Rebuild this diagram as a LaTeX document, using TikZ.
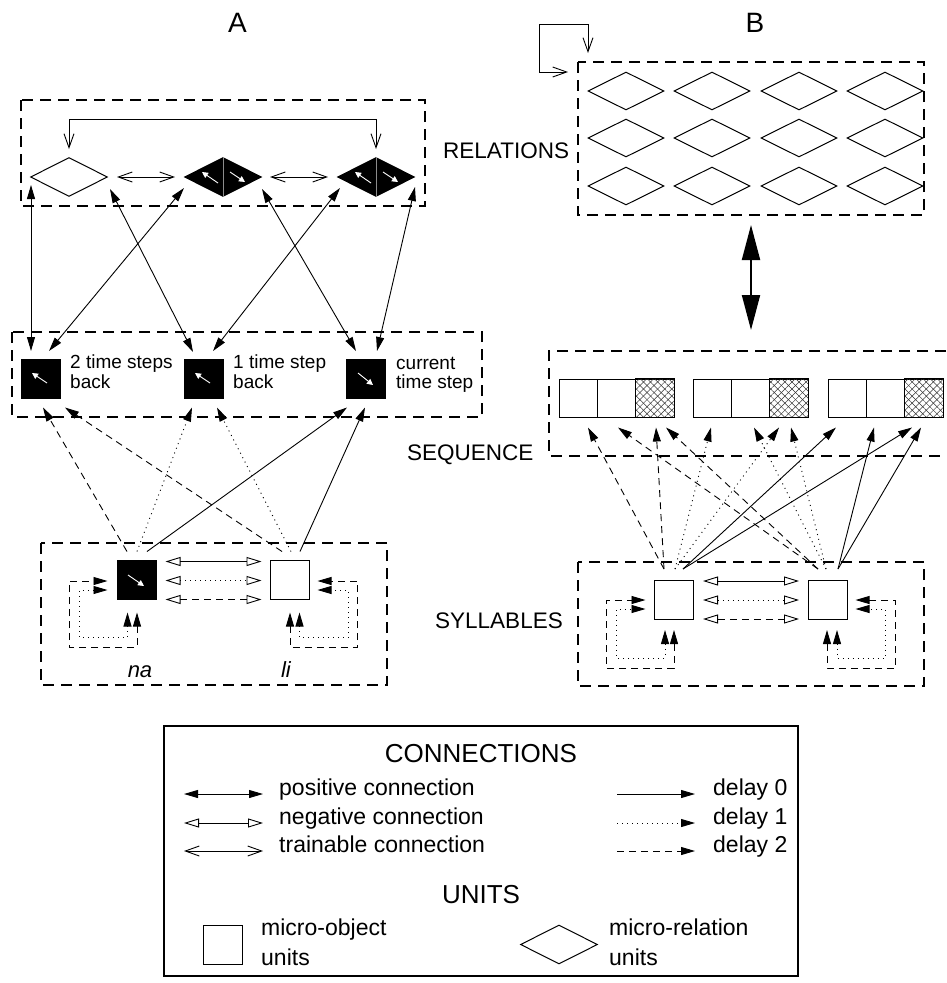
\documentclass[tikz,border=0pt]{standalone}
\usepackage{fontspec}
\setmainfont{Liberation Sans}
\usetikzlibrary{arrows.meta,shapes.geometric,patterns.meta,calc}
\newcommand{\myfs}[1]{\fontsize{#1}{#1}\selectfont}
\begin{document}
\begin{tikzpicture}[x=1pt,y=-1pt,
  grp/.style={draw, line width=1.7pt, dash pattern=on 11pt off 7pt},
  rel/.style={diamond, draw, line width=1pt, minimum width=77pt, minimum height=39pt, inner sep=0pt, aspect=2},
  relb/.style={rel, fill=black},
  unit/.style={rectangle, draw, line width=1pt, minimum size=39pt, inner sep=0pt},
  unitb/.style={unit, fill=black},
  cell/.style={rectangle, draw, line width=1pt, minimum width=38.33pt, minimum height=38pt, inner sep=0pt},
  conn/.style={line width=0.9pt},
  dotl/.style={dash pattern=on 1pt off 4pt},
  dashl/.style={dash pattern=on 7pt off 5pt},
  posc/.style={conn, {Triangle[length=14pt,width=8pt]}-{Triangle[length=14pt,width=8pt]}},
  negc/.style={conn, {Triangle[open,length=15pt,width=9pt]}-{Triangle[open,length=15pt,width=9pt]}},
  trnc/.style={conn, {Straight Barb[length=14pt,width=10pt]}-{Straight Barb[length=14pt,width=10pt]}},
  dlyc/.style={conn, -{Triangle[length=14pt,width=8pt]}},
  wa/.style={white, line width=0.9pt, -{Triangle[length=6pt,width=6pt]}},
  lbl/.style={font=\myfs{19}, inner sep=0pt},
  sect/.style={font=\myfs{22.5}, inner sep=0pt},
  hdr/.style={font=\myfs{28}, inner sep=0pt},
  leg/.style={font=\myfs{23}, inner sep=0pt},
  legh/.style={font=\myfs{26}, inner sep=0pt},
  ital/.style={font=\myfs{22}\itshape, inner sep=0pt},
]
\useasboundingbox (0,0) rectangle (946,983);

% ---------------- titles ----------------
\node[hdr, anchor=base] (ta) at (237.5,32) {A};
\node[hdr, anchor=base] (tb) at (755,32) {B};

% ================= A =================
% relations
\draw[grp] (21,100) rectangle (425,206);
\node[rel] (ra1) at (69,177) {};
\node[relb] (ra2) at (223,177) {};
\node[relb] (ra3) at (376,177) {};
\foreach \rr in {ra2,ra3}{
  \draw[black!45, line width=0.6pt] (\rr.north) -- (\rr.south);
  \draw[wa] ($(\rr)+(-5,6)$) -- ($(\rr)+(-21,-5)$);
  \draw[wa] ($(\rr)+(7,-5)$) -- ($(\rr)+(22,5)$);
}
\draw[trnc] ($(ra1.east)+(9,0)$) -- ($(ra2.west)+(-9,0)$);
\draw[trnc] ($(ra2.east)+(8,0)$) -- ($(ra3.west)+(-9,0)$);
\draw[trnc] ($(ra1.north)+(0,-8)$) -- ($(ra1.north)+(0,-38)$) -| ($(ra3.north)+(0,-8)$);
\node[sect, anchor=base west] (trel) at (443,158) {RELATIONS};

% sequence
\draw[grp] (12,332) rectangle (482,417);
\node[unitb] (sa1) at (40.5,378.5) {};
\node[unitb] (sa2) at (203.5,378.5) {};
\node[unitb] (sa3) at (366,378.5) {};
\draw[wa] ($(sa1)+(6.5,4.5)$) -- ($(sa1)+(-8.5,-5.5)$);
\draw[wa] ($(sa2)+(6.5,4.5)$) -- ($(sa2)+(-8.5,-5.5)$);
\draw[wa] ($(sa3)+(-8,-5.5)$) -- ($(sa3)+(7,6.5)$);
\node[lbl, anchor=base west] (l1a) at (70,368) {2 time steps};
\node[lbl, anchor=base west] (l1b) at (70,388) {back};
\node[lbl, anchor=base west] (l2a) at (233,368) {1 time step};
\node[lbl, anchor=base west] (l2b) at (233,388) {back};
\node[lbl, anchor=base west] (l3a) at (396,369) {current};
\node[lbl, anchor=base west] (l3b) at (396,388) {time step};
\node[sect, anchor=base west] (tseq) at (407,460) {SEQUENCE};

% relations <-> sequence
\draw[posc] ($(ra1)+(-38,8)$) -- ($(sa1)+(-9.5,-27.5)$);
\draw[posc] ($(ra1)+(41,12)$) -- ($(sa2)+(-10.5,-26.5)$);
\draw[posc] ($(ra2)+(-39,11)$) -- ($(sa1)+(8.5,-27.5)$);
\draw[posc] ($(ra2)+(39,12)$) -- ($(sa3)+(-10,-27.5)$);
\draw[posc] ($(ra3)+(-36,11)$) -- ($(sa2)+(9.5,-27.5)$);
\draw[posc] ($(ra3)+(39,10)$) -- ($(sa3)+(11,-27.5)$);

% syllables
\draw[grp] (41,543) rectangle (387,685);
\node[unitb] (na) at (136.5,579.5) {};
\node[unit] (li) at (289.5,579.5) {};
\draw[wa] ($(na)+(-8.5,-4.5)$) -- ($(na)+(7.5,6.5)$);
\draw[negc] ($(na.east)+(9,-18)$) -- ($(li.west)+(-8,-18)$);
\draw[negc, dotl] ($(na.east)+(9,1)$) -- ($(li.west)+(-8,1)$);
\draw[negc, dashl] ($(na.east)+(9,20)$) -- ($(li.west)+(-8,20)$);
% self loops
\draw[posc, dashl] ($(na.south)+(0.5,13)$) -- ($(na.south)+(0.5,48)$) -| ($(na.west)+(-47,1.5)$) -- ($(na.west)+(-9,1.5)$);
\draw[posc, dotl] ($(na.south)+(-9,13)$) -- ($(na.south)+(-9,38)$) -| ($(na.west)+(-37,10.5)$) -- ($(na.west)+(-9,10.5)$);
\draw[posc, dashl] ($(li.south)+(0.5,13)$) -- ($(li.south)+(0.5,48)$) -| ($(li.east)+(48,1.5)$) -- ($(li.east)+(8,1.5)$);
\draw[posc, dotl] ($(li.south)+(10,13)$) -- ($(li.south)+(10,38)$) -| ($(li.east)+(39,10.5)$) -- ($(li.east)+(8,10.5)$);
\node[ital, anchor=base] (tna) at (140,677) {na};
\node[ital, anchor=base] (tli) at (286,677) {li};
\node[sect, anchor=base west] (tsyl) at (435,628) {SYLLABLES};

% syllables -> sequence
\draw[dlyc, dashl] ($(na.north)+(-9.5,-8)$) -- ($(sa1.south)+(2.5,9)$);
\draw[dlyc, dotl] ($(na.north)+(0.5,-8)$) -- ($(sa2.south)+(-11.5,9)$);
\draw[dlyc] ($(na.north)+(10.5,-8)$) -- ($(sa3.south)+(-19,9)$);
\draw[dlyc, dashl] ($(li.north)+(-7.5,-8)$) -- ($(sa1.south)+(24.5,9)$);
\draw[dlyc, dotl] ($(li.north)+(1.5,-8)$) -- ($(sa2.south)+(13.5,9)$);
\draw[dlyc] ($(li.north)+(10.5,-8)$) -- ($(sa3.south)+(-1,9)$);

% ================= B =================
\draw[grp] (578,62) rectangle (924,215);
\foreach \jj/\yy in {1/91,2/138,3/186}{
  \foreach \ii/\xx in {1/626,2/712,3/799,4/885}{
    \node[rel, minimum width=76pt, minimum height=38pt] (rb\jj\ii) at (\xx,\yy) {};
  }
}
\coordinate (lpa) at (588,53);
\coordinate (lpb) at (568,72);
\draw[trnc] (lpa) -- (588,24) -| (539,72) -- (lpb);

\coordinate (bga) at (751,225);
\coordinate (bgb) at (751,330);
\draw[line width=2pt, {Triangle[length=35pt,width=18pt]}-{Triangle[length=35pt,width=18pt]}] (bga) -- (bgb);

% sequence B
\draw[grp] (946,351) -- (549,351) -- (549,456) -- (946,456);
\foreach \gg/\ss in {1/559,2/693,3/828}{
  \foreach \kk in {0,1,2}{
    \node[cell] (c\gg\kk) at ({\ss+19.17+38.33*\kk},398) {};
  }
  \fill[pattern={Lines[angle=45,distance=5pt,line width=0.5pt]}, pattern color=black!80] (c\gg2.north west) rectangle (c\gg2.south east);
  \fill[pattern={Lines[angle=-45,distance=5pt,line width=0.5pt]}, pattern color=black!80] (c\gg2.north west) rectangle (c\gg2.south east);
  \draw[line width=1pt] (c\gg2.north west) rectangle (c\gg2.south east);
}

% syllables B
\draw[grp] (578,562) rectangle (924,686);
\node[unit] (sl) at (673.5,600) {};
\node[unit] (sr) at (827.5,600) {};
\draw[negc] ($(sl.east)+(9.5,-19)$) -- ($(sr.west)+(-8.5,-19)$);
\draw[negc, dotl] ($(sl.east)+(9.5,0)$) -- ($(sr.west)+(-8.5,0)$);
\draw[negc, dashl] ($(sl.east)+(9.5,19)$) -- ($(sr.west)+(-8.5,19)$);
\draw[posc, dashl] ($(sl.south)+(0.5,10)$) -- ($(sl.south)+(0.5,48)$) -| ($(sl.west)+(-47,0)$) -- ($(sl.west)+(-8,0)$);
\draw[posc, dotl] ($(sl.south)+(-8.5,10)$) -- ($(sl.south)+(-8.5,38)$) -| ($(sl.west)+(-37,9)$) -- ($(sl.west)+(-8,9)$);
\draw[posc, dashl] ($(sr.south)+(-0.5,10)$) -- ($(sr.south)+(-0.5,48)$) -| ($(sr.east)+(48,0)$) -- ($(sr.east)+(8,0)$);
\draw[posc, dotl] ($(sr.south)+(9.5,10)$) -- ($(sr.south)+(9.5,38)$) -| ($(sr.east)+(38,9)$) -- ($(sr.east)+(8,9)$);

% syllables -> sequence B
\draw[dlyc, dashl] ($(sl.north)+(-9.5,-11)$) -- ($(c10.south)+(9.8,10)$);
\draw[dlyc, dashl] ($(sl.north)+(-9.5,-11)$) -- ($(c12.south)+(1.2,10)$);
\draw[dlyc, dashl] ($(sr.north)+(-9.5,-11)$) -- ($(c11.south)+(1.5,10)$);
\draw[dlyc, dashl] ($(sr.north)+(-9.5,-11)$) -- ($(c12.south)+(11.2,10)$);
\draw[dlyc, dotl] ($(sl.north)+(1.5,-11)$) -- ($(c20.south)+(-1.2,10)$);
\draw[dlyc, dotl] ($(sl.north)+(1.5,-11)$) -- ($(c22.south)+(-9.8,10)$);
\draw[dlyc, dotl] ($(sr.north)+(-1.5,-11)$) -- ($(c21.south)+(3.5,10)$);
\draw[dlyc, dotl] ($(sr.north)+(-1.5,-11)$) -- ($(c22.south)+(2.2,10)$);
\draw[dlyc] ($(sl.north)+(9.5,-11)$) -- ($(c30.south)+(-11.2,10)$);
\draw[dlyc] ($(sl.north)+(9.5,-11)$) -- ($(c32.south)+(-11.8,10)$);
\draw[dlyc] ($(sr.north)+(10.5,-11)$) -- ($(c31.south)+(-11.5,10)$);
\draw[dlyc] ($(sr.north)+(10.5,-11)$) -- ($(c32.south)+(-2.8,10)$);

% ================= legend =================
\draw[line width=1.3pt] (164,726) rectangle (798,976);
\node[legh, anchor=base] (lcn) at (481,762) {CONNECTIONS};
\draw[posc] (184,794) coordinate (lg1a) -- (263,794) coordinate (lg1b);
\node[leg, anchor=base west] (tpos) at (279,795) {positive connection};
\draw[negc] (184,823) coordinate (lg2a) -- (263,823) coordinate (lg2b);
\node[leg, anchor=base west] (tneg) at (279,824) {negative connection};
\draw[trnc] (184,851) coordinate (lg3a) -- (263,851) coordinate (lg3b);
\node[leg, anchor=base west] (ttr) at (279,852) {trainable connection};
\draw[dlyc] (617,794) coordinate (lg4a) -- (695,794) coordinate (lg4b);
\node[leg, anchor=base west] (td0) at (713,795) {delay 0};
\draw[dlyc, dotl] (617,823) coordinate (lg5a) -- (695,823) coordinate (lg5b);
\node[leg, anchor=base west] (td1) at (713,824) {delay 1};
\draw[dlyc, dashl] (617,851) coordinate (lg6a) -- (695,851) coordinate (lg6b);
\node[leg, anchor=base west] (td2) at (713,852) {delay 2};
\node[legh, anchor=base] (lun) at (481,903) {UNITS};
\node[unit] (lsq) at (222.5,944.5) {};
\node[leg, anchor=base west] (tmo) at (261,935) {micro-object};
\node[leg, anchor=base west] (tmo2) at (261,965) {units};
\node[rel] (ldm) at (559,944.5) {};
\node[leg, anchor=base west] (tmr) at (609,935) {micro-relation};
\node[leg, anchor=base west] (tmr2) at (609,965) {units};
\end{tikzpicture}
\end{document}
